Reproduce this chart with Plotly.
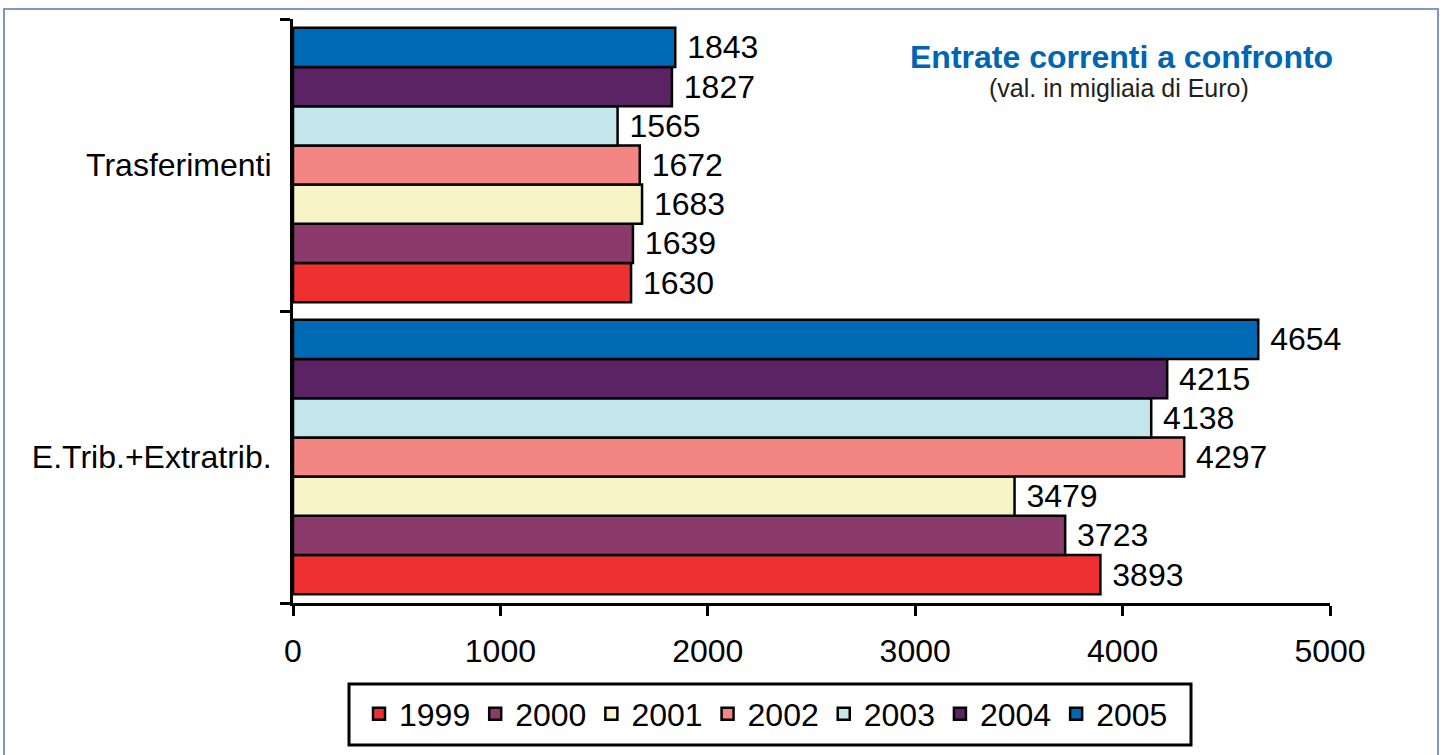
import plotly.graph_objects as go

categories = ["E.Trib.+Extratrib.", "Trasferimenti"]
years = ["1999", "2000", "2001", "2002", "2003", "2004", "2005"]
trib_values = [3893, 3723, 3479, 4297, 4138, 4215, 4654]
trasf_values = [1630, 1639, 1683, 1672, 1565, 1827, 1843]
colors = ["#EE3030", "#8B3A6B", "#F7F5C8", "#F38683", "#C2E6E9", "#5A2363", "#0069B4"]
x_ticks = [0, 1000, 2000, 3000, 4000, 5000]

FONT = "Liberation Sans, Arial, sans-serif"
FS = 32

fig = go.Figure()
for i, yr in enumerate(years):
    vals = [trib_values[i], trasf_values[i]]
    fig.add_trace(go.Bar(
        y=categories, x=vals, name=yr, orientation="h",
        marker=dict(color=colors[i], line=dict(color="black", width=2.5)),
        text=["\u00a0" + str(v) for v in vals], textposition="outside",
        textfont=dict(family=FONT, size=FS, color="black"),
        constraintext="none", cliponaxis=False,
    ))

W, H = 1444, 755
L, R, T, B = 293, 114, 19, 152
pw, ph = W - L - R, H - T - B

def px(x):
    return (x - L) / pw

def py(y):
    return (H - B - y) / ph

fig.update_layout(
    width=W, height=H,
    margin=dict(l=L, r=R, t=T, b=B, autoexpand=False),
    paper_bgcolor="white", plot_bgcolor="white",
    barmode="group", bargap=0.06, bargroupgap=0,
    font=dict(family=FONT, color="black"),
    xaxis=dict(range=[0, 5000], tickvals=x_ticks, showgrid=False, zeroline=False,
               showline=True, linecolor="black", linewidth=3,
               ticks="outside", ticklen=10, tickwidth=3, tickcolor="black",
               tickfont=dict(size=FS, family=FONT, color="black"),
               ticklabelstandoff=8, automargin=False),
    yaxis=dict(type="category", categoryorder="array", categoryarray=categories,
               showgrid=False, zeroline=False,
               showline=True, linecolor="black", linewidth=3,
               ticks="outside", ticklen=10, tickwidth=3, tickcolor="black",
               tickson="boundaries",
               tickfont=dict(size=FS, family=FONT, color="black"),
               ticklabelstandoff=12, automargin=False),
    showlegend=True,
    legend=dict(orientation="h", traceorder="normal",
                x=px(766), xanchor="center", y=py(714), yanchor="middle",
                borderwidth=0, bgcolor="rgba(0,0,0,0)",
                font=dict(size=FS, family=FONT, color="black")),
    shapes=[
        dict(type="rect", xref="paper", yref="paper",
             x0=px(4), x1=px(1438), y0=py(760), y1=py(9),
             line=dict(color="#7F96C8", width=2), fillcolor="rgba(0,0,0,0)", layer="below"),
        dict(type="rect", xref="paper", yref="paper",
             x0=px(349), x1=px(1191), y0=py(745), y1=py(684),
             line=dict(color="black", width=3), fillcolor="rgba(0,0,0,0)", layer="above"),
    ],
    annotations=[
        dict(text="<b>Entrate correnti a confronto</b>", xref="paper", yref="paper",
             x=px(1121), y=py(57), xanchor="center", yanchor="middle", showarrow=False,
             font=dict(size=32, color="#0066B3", family=FONT)),
        dict(text="(val. in migliaia di Euro)", xref="paper", yref="paper",
             x=px(1119), y=py(88), xanchor="center", yanchor="middle", showarrow=False,
             font=dict(size=25, color="#231F20", family=FONT)),
    ],
)

fig.write_html("out.html", config={"displayModeBar": False},
               post_script="document.body.style.margin='0px';document.body.style.padding='0px';")
